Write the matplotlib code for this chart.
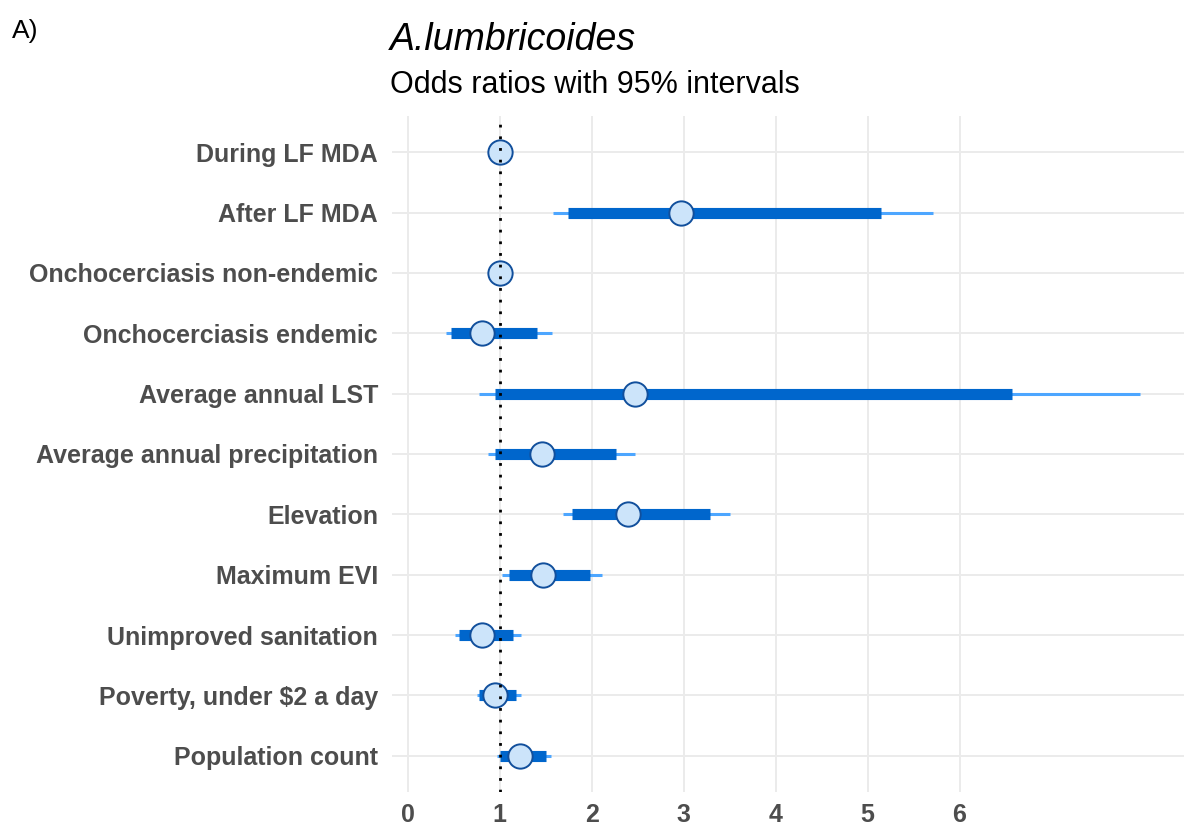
import matplotlib
matplotlib.use("Agg")
import matplotlib.pyplot as plt
import numpy as np

plt.rcParams['font.family'] = ['Liberation Sans', 'DejaVu Sans']

labels = ["During LF MDA", "After LF MDA", "Onchocerciasis non-endemic",
          "Onchocerciasis endemic", "Average annual LST",
          "Average annual precipitation", "Elevation", "Maximum EVI",
          "Unimproved sanitation", "Poverty, under $2 a day", "Population count"]
point = [1.00, 2.97, 1.00, 0.81, 2.47, 1.46, 2.40, 1.47, 0.81, 0.95, 1.22]
inner_lo = [np.nan, 1.74, np.nan, 0.47, 0.95, 0.95, 1.79, 1.10, 0.56, 0.78, 1.00]
inner_hi = [np.nan, 5.15, np.nan, 1.41, 6.57, 2.26, 3.29, 1.98, 1.15, 1.18, 1.50]
outer_lo = [np.nan, 1.58, np.nan, 0.42, 0.78, 0.87, 1.69, 1.03, 0.52, 0.75, 0.97]
outer_hi = [np.nan, 5.71, np.nan, 1.57, 7.96, 2.47, 3.50, 2.11, 1.23, 1.23, 1.56]
xticks = [0, 1, 2, 3, 4, 5, 6]

fig = plt.figure(figsize=(11.84, 8.25), dpi=100)
ax = fig.add_axes([392/1184, 1-792/825, 1-392/1184, (792-116)/825])

n = len(labels)
ypos = np.arange(n)[::-1] + 1  # top item highest

grid_c = "#EBEBEB"
for x in xticks:
    ax.axvline(x, color=grid_c, lw=1.4, zorder=0)
for y in ypos:
    ax.axhline(y, color=grid_c, lw=1.4, zorder=0)

ax.hlines(ypos, outer_lo, outer_hi, color="#4DA6FF", lw=2.2, zorder=2, capstyle='butt')
ax.hlines(ypos, inner_lo, inner_hi, color="#0066CC", lw=8, zorder=3, capstyle='butt')
ax.plot(point, ypos, 'o', ms=17.5, mfc="#CCE4FA", mec="#114F9C", mew=1.4, zorder=4, ls='none')
ax.axvline(1, color="black", lw=2, ls=(0, (1, 3.2)), zorder=5)

ax.set_xlim(-0.17, 8.44)
ax.set_ylim(0.4, n + 0.6)
ax.set_xticks(xticks)
ax.set_xticklabels([str(t) for t in xticks])
ax.set_yticks(ypos)
ax.set_yticklabels(labels)
for s in ax.spines.values():
    s.set_visible(False)
ax.tick_params(axis='both', length=0, labelsize=18, labelcolor="#4D4D4D")
ax.tick_params(axis='y', pad=10)
ax.tick_params(axis='x', pad=8)
for t in ax.get_xticklabels() + ax.get_yticklabels():
    t.set_fontweight('bold')

fig.text(390/1184, 1-50/825, "A.lumbricoides", fontsize=27, style='italic', ha='left', va='baseline')
fig.text(390/1184, 1-93/825, "Odds ratios with 95% intervals", fontsize=22, ha='left', va='baseline')
fig.text(12/1184, 1-38/825, "A)", fontsize=19, ha='left', va='baseline')

fig.savefig("out.png", dpi=100, facecolor="white")
